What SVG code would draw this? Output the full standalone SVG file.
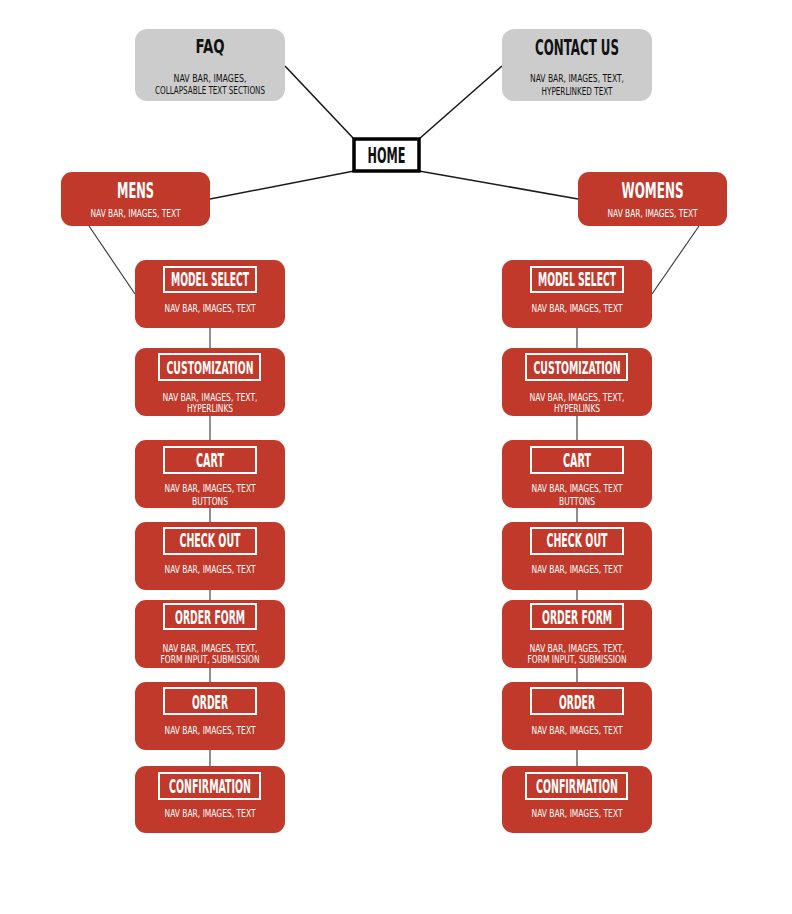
<svg xmlns="http://www.w3.org/2000/svg" width="792" height="914" viewBox="0 0 792 914">
<style>
.bg{fill:#ffffff}
.gray{fill:#cccccc}
.red{fill:#c0392b}
.lbl{fill:none;stroke:#ffffff;stroke-width:2}
.home{fill:#ffffff;stroke:#000000;stroke-width:3.5}
text{font-family:"DejaVu Sans Condensed","DejaVu Sans",sans-serif;text-anchor:middle}
.tk{fill:#111111;font-weight:bold}
.sk{fill:#111111;font-size:10px}
.tw{fill:#ffffff;font-weight:bold}
.sw{fill:#ffffff;font-size:10px}
.c1{stroke:#1a1a1a;stroke-width:1.6;fill:none}
.c2{stroke:#333333;stroke-width:1.1;fill:none}
</style>
<rect class="bg" x="0" y="0" width="792" height="914"/>
<g id="connectors">
<line class="c1" x1="285" y1="66" x2="354" y2="139"/>
<line class="c1" x1="502" y1="66" x2="419" y2="139"/>
<line class="c1" x1="354" y1="171" x2="210" y2="199"/>
<line class="c1" x1="419" y1="171" x2="578" y2="199"/>
<line class="c2" x1="89" y1="226" x2="135" y2="294"/>
<line class="c2" x1="699" y1="226" x2="652" y2="294"/>
<path class="c2" d="M210 328V348M210 416V440M210 508V522M210 590V600M210 668V682M210 750V766"/>
<path class="c2" d="M577 328V348M577 416V440M577 508V522M577 590V600M577 668V682M577 750V766"/>
</g>
<g id="faq">
<rect class="gray" x="135" y="29" width="150" height="72" rx="12"/>
<text class="tk" x="210" y="52.5" font-size="20" textLength="29" lengthAdjust="spacingAndGlyphs">FAQ</text>
<text class="sk" x="210" y="81.5" textLength="73" lengthAdjust="spacingAndGlyphs">NAV BAR, IMAGES,</text>
<text class="sk" x="210" y="93.5" textLength="110" lengthAdjust="spacingAndGlyphs">COLLAPSABLE TEXT SECTIONS</text>
</g>
<g id="contact">
<rect class="gray" x="502" y="29" width="150" height="72" rx="12"/>
<text class="tk" x="577" y="55" font-size="21" textLength="84" lengthAdjust="spacingAndGlyphs">CONTACT US</text>
<text class="sk" x="577" y="81.5" textLength="94" lengthAdjust="spacingAndGlyphs">NAV BAR, IMAGES, TEXT,</text>
<text class="sk" x="577" y="95" textLength="71" lengthAdjust="spacingAndGlyphs">HYPERLINKED TEXT</text>
</g>
<g id="home">
<rect class="home" x="354" y="139" width="65" height="32"/>
<text class="tk" x="386.5" y="163" font-size="22" textLength="38" lengthAdjust="spacingAndGlyphs">HOME</text>
</g>
<g id="mens">
<rect class="red" x="61" y="172" width="149" height="54" rx="11"/>
<text class="tw" x="135.5" y="198" font-size="21" textLength="37" lengthAdjust="spacingAndGlyphs">MENS</text>
<text class="sw" x="135.5" y="216.5" textLength="90" lengthAdjust="spacingAndGlyphs">NAV BAR, IMAGES, TEXT</text>
</g>
<g id="womens">
<rect class="red" x="578" y="172" width="149" height="54" rx="11"/>
<text class="tw" x="652.5" y="198" font-size="21" textLength="62" lengthAdjust="spacingAndGlyphs">WOMENS</text>
<text class="sw" x="652.5" y="216.5" textLength="90" lengthAdjust="spacingAndGlyphs">NAV BAR, IMAGES, TEXT</text>
</g>
<g id="m-model">
<rect class="red" x="135" y="260" width="150" height="68" rx="11"/>
<rect class="lbl" x="164" y="267" width="92" height="25"/>
<text class="tw" x="210" y="286" font-size="19" textLength="78" lengthAdjust="spacingAndGlyphs">MODEL SELECT</text>
<text class="sw" x="210" y="311.5" textLength="91" lengthAdjust="spacingAndGlyphs">NAV BAR, IMAGES, TEXT</text>
</g>
<g id="m-custom">
<rect class="red" x="135" y="348" width="150" height="68" rx="11"/>
<rect class="lbl" x="159" y="354" width="101" height="26"/>
<text class="tw" x="210" y="373.5" font-size="18" textLength="87" lengthAdjust="spacingAndGlyphs">CUSTOMIZATION</text>
<text class="sw" x="210" y="400.5" textLength="95" lengthAdjust="spacingAndGlyphs">NAV BAR, IMAGES, TEXT,</text>
<text class="sw" x="210" y="411.5" textLength="46" lengthAdjust="spacingAndGlyphs">HYPERLINKS</text>
</g>
<g id="m-cart">
<rect class="red" x="135" y="440" width="150" height="68" rx="11"/>
<rect class="lbl" x="164" y="447" width="92" height="26"/>
<text class="tw" x="210" y="467" font-size="19" textLength="28" lengthAdjust="spacingAndGlyphs">CART</text>
<text class="sw" x="210" y="491.5" textLength="91" lengthAdjust="spacingAndGlyphs">NAV BAR, IMAGES, TEXT</text>
<text class="sw" x="210" y="504.5" textLength="36" lengthAdjust="spacingAndGlyphs">BUTTONS</text>
</g>
<g id="m-checkout">
<rect class="red" x="135" y="522" width="150" height="68" rx="11"/>
<rect class="lbl" x="164" y="528" width="92" height="26"/>
<text class="tw" x="210" y="547" font-size="19" textLength="61" lengthAdjust="spacingAndGlyphs">CHECK OUT</text>
<text class="sw" x="210" y="573" textLength="91" lengthAdjust="spacingAndGlyphs">NAV BAR, IMAGES, TEXT</text>
</g>
<g id="m-orderform">
<rect class="red" x="135" y="600" width="150" height="68" rx="11"/>
<rect class="lbl" x="164" y="604" width="92" height="25"/>
<text class="tw" x="210" y="624" font-size="19" textLength="70" lengthAdjust="spacingAndGlyphs">ORDER FORM</text>
<text class="sw" x="210" y="651.5" textLength="95" lengthAdjust="spacingAndGlyphs">NAV BAR, IMAGES, TEXT,</text>
<text class="sw" x="210" y="663" textLength="99" lengthAdjust="spacingAndGlyphs">FORM INPUT, SUBMISSION</text>
</g>
<g id="m-order">
<rect class="red" x="135" y="682" width="150" height="68" rx="11"/>
<rect class="lbl" x="164" y="688" width="92" height="26"/>
<text class="tw" x="210" y="709" font-size="19" textLength="36" lengthAdjust="spacingAndGlyphs">ORDER</text>
<text class="sw" x="210" y="733.5" textLength="91" lengthAdjust="spacingAndGlyphs">NAV BAR, IMAGES, TEXT</text>
</g>
<g id="m-confirm">
<rect class="red" x="135" y="766" width="150" height="67" rx="11"/>
<rect class="lbl" x="159" y="773" width="101" height="26"/>
<text class="tw" x="210" y="793" font-size="19" textLength="82" lengthAdjust="spacingAndGlyphs">CONFIRMATION</text>
<text class="sw" x="210" y="817" textLength="91" lengthAdjust="spacingAndGlyphs">NAV BAR, IMAGES, TEXT</text>
</g>
<g id="w-model">
<rect class="red" x="502" y="260" width="150" height="68" rx="11"/>
<rect class="lbl" x="531" y="267" width="92" height="25"/>
<text class="tw" x="577" y="286" font-size="19" textLength="78" lengthAdjust="spacingAndGlyphs">MODEL SELECT</text>
<text class="sw" x="577" y="311.5" textLength="91" lengthAdjust="spacingAndGlyphs">NAV BAR, IMAGES, TEXT</text>
</g>
<g id="w-custom">
<rect class="red" x="502" y="348" width="150" height="68" rx="11"/>
<rect class="lbl" x="526" y="354" width="101" height="26"/>
<text class="tw" x="577" y="373.5" font-size="18" textLength="87" lengthAdjust="spacingAndGlyphs">CUSTOMIZATION</text>
<text class="sw" x="577" y="400.5" textLength="95" lengthAdjust="spacingAndGlyphs">NAV BAR, IMAGES, TEXT,</text>
<text class="sw" x="577" y="411.5" textLength="46" lengthAdjust="spacingAndGlyphs">HYPERLINKS</text>
</g>
<g id="w-cart">
<rect class="red" x="502" y="440" width="150" height="68" rx="11"/>
<rect class="lbl" x="531" y="447" width="92" height="26"/>
<text class="tw" x="577" y="467" font-size="19" textLength="28" lengthAdjust="spacingAndGlyphs">CART</text>
<text class="sw" x="577" y="491.5" textLength="91" lengthAdjust="spacingAndGlyphs">NAV BAR, IMAGES, TEXT</text>
<text class="sw" x="577" y="504.5" textLength="36" lengthAdjust="spacingAndGlyphs">BUTTONS</text>
</g>
<g id="w-checkout">
<rect class="red" x="502" y="522" width="150" height="68" rx="11"/>
<rect class="lbl" x="531" y="528" width="92" height="26"/>
<text class="tw" x="577" y="547" font-size="19" textLength="61" lengthAdjust="spacingAndGlyphs">CHECK OUT</text>
<text class="sw" x="577" y="573" textLength="91" lengthAdjust="spacingAndGlyphs">NAV BAR, IMAGES, TEXT</text>
</g>
<g id="w-orderform">
<rect class="red" x="502" y="600" width="150" height="68" rx="11"/>
<rect class="lbl" x="531" y="604" width="92" height="25"/>
<text class="tw" x="577" y="624" font-size="19" textLength="70" lengthAdjust="spacingAndGlyphs">ORDER FORM</text>
<text class="sw" x="577" y="651.5" textLength="95" lengthAdjust="spacingAndGlyphs">NAV BAR, IMAGES, TEXT,</text>
<text class="sw" x="577" y="663" textLength="99" lengthAdjust="spacingAndGlyphs">FORM INPUT, SUBMISSION</text>
</g>
<g id="w-order">
<rect class="red" x="502" y="682" width="150" height="68" rx="11"/>
<rect class="lbl" x="531" y="688" width="92" height="26"/>
<text class="tw" x="577" y="709" font-size="19" textLength="36" lengthAdjust="spacingAndGlyphs">ORDER</text>
<text class="sw" x="577" y="733.5" textLength="91" lengthAdjust="spacingAndGlyphs">NAV BAR, IMAGES, TEXT</text>
</g>
<g id="w-confirm">
<rect class="red" x="502" y="766" width="150" height="67" rx="11"/>
<rect class="lbl" x="526" y="773" width="101" height="26"/>
<text class="tw" x="577" y="793" font-size="19" textLength="82" lengthAdjust="spacingAndGlyphs">CONFIRMATION</text>
<text class="sw" x="577" y="817" textLength="91" lengthAdjust="spacingAndGlyphs">NAV BAR, IMAGES, TEXT</text>
</g>
</svg>
